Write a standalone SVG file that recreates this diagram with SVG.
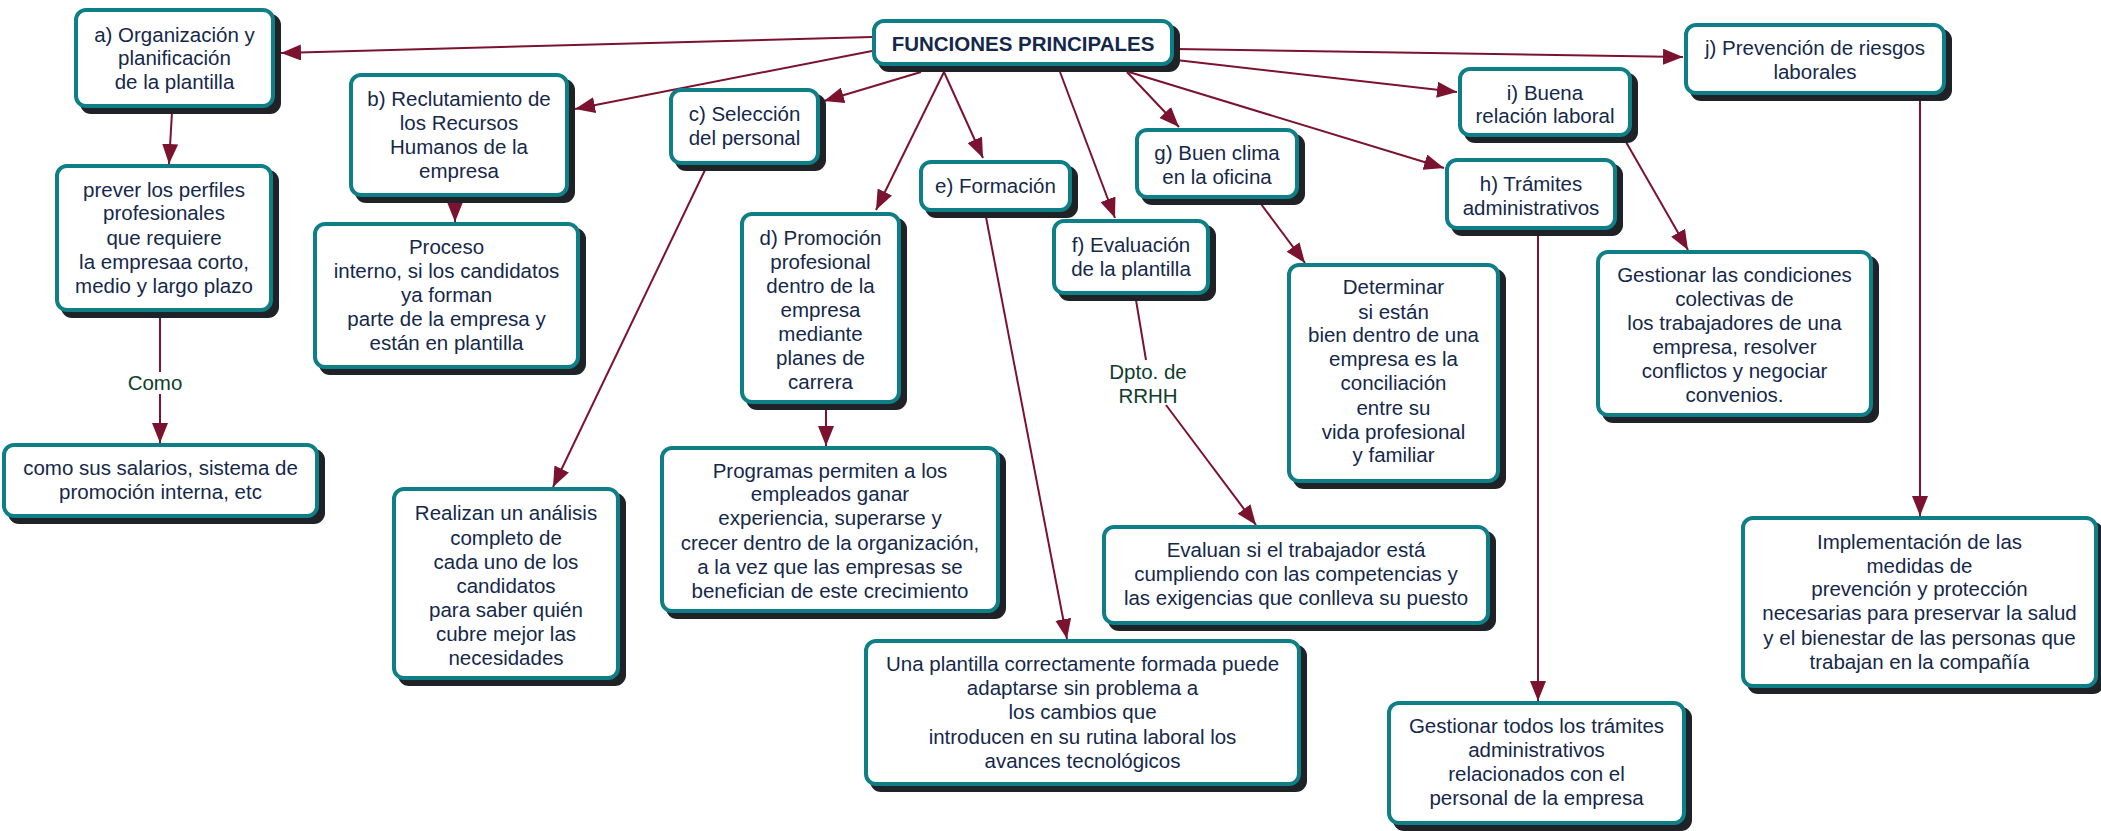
<svg xmlns="http://www.w3.org/2000/svg" width="2101" height="831" viewBox="0 0 2101 831">
<defs>
<style>
.sh{fill:#1f2227}
.bx{fill:#ffffff;stroke:#0e7f87;stroke-width:4}
.t{font-family:"Liberation Sans",Arial,sans-serif;font-size:20.5px;fill:#15284a;text-anchor:middle}
.tb{font-weight:bold}
.ln{fill:none;stroke:#7b1230;stroke-width:2}
.lb{font-family:"Liberation Sans",Arial,sans-serif;font-size:20.5px;fill:#0f3d2d;text-anchor:middle}
</style>
<marker id="ah" markerUnits="userSpaceOnUse" markerWidth="22" markerHeight="16" refX="20" refY="8" orient="auto">
<path d="M0,0 L20,8 L0,16 Z" fill="#7b1230"/>
</marker>
</defs>
<rect width="2101" height="831" fill="#ffffff"/>
<g id="connectors">
<path class="ln" marker-end="url(#ah)" d="M872,37 L281,53"/>
<path class="ln" marker-end="url(#ah)" d="M872,51 L575,109"/>
<path class="ln" marker-end="url(#ah)" d="M921,72 L824,101"/>
<path class="ln" marker-end="url(#ah)" d="M944,72 L876,210"/>
<path class="ln" marker-end="url(#ah)" d="M944,72 L983,158"/>
<path class="ln" marker-end="url(#ah)" d="M1060,72 L1115,218"/>
<path class="ln" marker-end="url(#ah)" d="M1127,72 L1179,127"/>
<path class="ln" marker-end="url(#ah)" d="M1129,72 L1444,168"/>
<path class="ln" marker-end="url(#ah)" d="M1176,60 L1457,92"/>
<path class="ln" marker-end="url(#ah)" d="M1176,49 L1683,57"/>
<path class="ln" marker-end="url(#ah)" d="M172,112 L169,164"/>
<path class="ln" marker-end="url(#ah)" d="M455,200 L455,222"/>
<path class="ln" d="M160,316 L160,372"/>
<path class="ln" marker-end="url(#ah)" d="M160,394 L160,443"/>
<path class="ln" marker-end="url(#ah)" d="M705,170 L553,487"/>
<path class="ln" marker-end="url(#ah)" d="M826,408 L826,446"/>
<path class="ln" marker-end="url(#ah)" d="M986,217 L1067,639"/>
<path class="ln" d="M1136,300 L1146,360"/>
<path class="ln" marker-end="url(#ah)" d="M1166,405 L1256,525"/>
<path class="ln" marker-end="url(#ah)" d="M1261,204 L1305,263"/>
<path class="ln" marker-end="url(#ah)" d="M1626,142 L1688,250"/>
<path class="ln" marker-end="url(#ah)" d="M1538,234 L1538,701"/>
<path class="ln" marker-end="url(#ah)" d="M1920,100 L1920,516"/>
<text class="lb" x="155" y="390">Como</text>
<text class="lb"><tspan x="1148" y="379">Dpto. de</tspan><tspan x="1148" y="403">RRHH</tspan></text>
</g>
<g id="n-center">
<rect class="sh" x="878" y="25" width="302" height="47" rx="11"/>
<rect class="bx" x="874" y="21" width="298" height="43" rx="10"/>
<text class="t tb" x="1023" y="51">FUNCIONES PRINCIPALES</text>
</g>
<g id="n-a">
<rect class="sh" x="80" y="14" width="201" height="100" rx="11"/>
<rect class="bx" x="76" y="10" width="197" height="96" rx="10"/>
<text class="t"><tspan x="174.5" y="42">a) Organización y</tspan><tspan x="174.5" y="65">planificación</tspan><tspan x="174.5" y="89">de la plantilla</tspan></text>
</g>
<g id="n-prever">
<rect class="sh" x="61" y="170" width="218" height="148" rx="11"/>
<rect class="bx" x="57" y="166" width="214" height="144" rx="10"/>
<text class="t"><tspan x="164" y="197">prever los perfiles</tspan><tspan x="164" y="220">profesionales</tspan><tspan x="164" y="245">que requiere</tspan><tspan x="164" y="269">la empresaa corto,</tspan><tspan x="164" y="293">medio y largo plazo</tspan></text>
</g>
<g id="n-b">
<rect class="sh" x="355" y="79" width="220" height="124" rx="11"/>
<rect class="bx" x="351" y="75" width="216" height="120" rx="10"/>
<text class="t"><tspan x="459" y="106">b) Reclutamiento de</tspan><tspan x="459" y="130">los Recursos</tspan><tspan x="459" y="154">Humanos de la</tspan><tspan x="459" y="178">empresa</tspan></text>
</g>
<g id="n-proceso">
<rect class="sh" x="319" y="228" width="267" height="147" rx="11"/>
<rect class="bx" x="315" y="224" width="263" height="143" rx="10"/>
<text class="t"><tspan x="446.5" y="254">Proceso</tspan><tspan x="446.5" y="278">interno, si los candidatos</tspan><tspan x="446.5" y="302">ya forman</tspan><tspan x="446.5" y="326">parte de la empresa y</tspan><tspan x="446.5" y="350">están en plantilla</tspan></text>
</g>
<g id="n-como">
<rect class="sh" x="8" y="449" width="317" height="75" rx="11"/>
<rect class="bx" x="4" y="445" width="313" height="71" rx="10"/>
<text class="t"><tspan x="160.5" y="475">como sus salarios, sistema de</tspan><tspan x="160.5" y="499">promoción interna, etc</tspan></text>
</g>
<g id="n-c">
<rect class="sh" x="675" y="94" width="151" height="77" rx="11"/>
<rect class="bx" x="671" y="90" width="147" height="73" rx="10"/>
<text class="t"><tspan x="744.5" y="121">c) Selección</tspan><tspan x="744.5" y="145">del personal</tspan></text>
</g>
<g id="n-realizan">
<rect class="sh" x="398" y="493" width="228" height="193" rx="11"/>
<rect class="bx" x="394" y="489" width="224" height="189" rx="10"/>
<text class="t"><tspan x="506" y="520">Realizan un análisis</tspan><tspan x="506" y="545">completo de</tspan><tspan x="506" y="569">cada uno de los</tspan><tspan x="506" y="593">candidatos</tspan><tspan x="506" y="617">para saber quién</tspan><tspan x="506" y="641">cubre mejor las</tspan><tspan x="506" y="665">necesidades</tspan></text>
</g>
<g id="n-d">
<rect class="sh" x="746" y="218" width="161" height="192" rx="11"/>
<rect class="bx" x="742" y="214" width="157" height="188" rx="10"/>
<text class="t"><tspan x="820.5" y="245">d) Promoción</tspan><tspan x="820.5" y="269">profesional</tspan><tspan x="820.5" y="293">dentro de la</tspan><tspan x="820.5" y="317">empresa</tspan><tspan x="820.5" y="341">mediante</tspan><tspan x="820.5" y="365">planes de</tspan><tspan x="820.5" y="389">carrera</tspan></text>
</g>
<g id="n-programas">
<rect class="sh" x="666" y="452" width="340" height="167" rx="11"/>
<rect class="bx" x="662" y="448" width="336" height="163" rx="10"/>
<text class="t"><tspan x="830" y="478">Programas permiten a los</tspan><tspan x="830" y="501">empleados ganar</tspan><tspan x="830" y="525">experiencia, superarse y</tspan><tspan x="830" y="550">crecer dentro de la organización,</tspan><tspan x="830" y="574">a la vez que las empresas se</tspan><tspan x="830" y="598">benefician de este crecimiento</tspan></text>
</g>
<g id="n-e">
<rect class="sh" x="925" y="166" width="153" height="52" rx="11"/>
<rect class="bx" x="921" y="162" width="149" height="48" rx="10"/>
<text class="t" x="995.5" y="193">e) Formación</text>
</g>
<g id="n-una">
<rect class="sh" x="870" y="645" width="437" height="147" rx="11"/>
<rect class="bx" x="866" y="641" width="433" height="143" rx="10"/>
<text class="t"><tspan x="1082.5" y="671">Una plantilla correctamente formada puede</tspan><tspan x="1082.5" y="695">adaptarse sin problema a</tspan><tspan x="1082.5" y="719">los cambios que</tspan><tspan x="1082.5" y="744">introducen en su rutina laboral los</tspan><tspan x="1082.5" y="768">avances tecnológicos</tspan></text>
</g>
<g id="n-f">
<rect class="sh" x="1058" y="225" width="158" height="76" rx="11"/>
<rect class="bx" x="1054" y="221" width="154" height="72" rx="10"/>
<text class="t"><tspan x="1131" y="252">f) Evaluación</tspan><tspan x="1131" y="276">de la plantilla</tspan></text>
</g>
<g id="n-evaluan">
<rect class="sh" x="1108" y="531" width="388" height="100" rx="11"/>
<rect class="bx" x="1104" y="527" width="384" height="96" rx="10"/>
<text class="t"><tspan x="1296" y="557">Evaluan si el trabajador está</tspan><tspan x="1296" y="581">cumpliendo con las competencias y</tspan><tspan x="1296" y="605">las exigencias que conlleva su puesto</tspan></text>
</g>
<g id="n-g">
<rect class="sh" x="1141" y="134" width="164" height="71" rx="11"/>
<rect class="bx" x="1137" y="130" width="160" height="67" rx="10"/>
<text class="t"><tspan x="1217" y="160">g) Buen clima</tspan><tspan x="1217" y="184">en la oficina</tspan></text>
</g>
<g id="n-determinar">
<rect class="sh" x="1293" y="269" width="213" height="220" rx="11"/>
<rect class="bx" x="1289" y="265" width="209" height="216" rx="10"/>
<text class="t"><tspan x="1393.5" y="294">Determinar</tspan><tspan x="1393.5" y="319">si están</tspan><tspan x="1393.5" y="342">bien dentro de una</tspan><tspan x="1393.5" y="366">empresa es la</tspan><tspan x="1393.5" y="390">conciliación</tspan><tspan x="1393.5" y="415">entre su</tspan><tspan x="1393.5" y="439">vida profesional</tspan><tspan x="1393.5" y="462">y familiar</tspan></text>
</g>
<g id="n-i">
<rect class="sh" x="1464" y="73" width="174" height="70" rx="11"/>
<rect class="bx" x="1460" y="69" width="170" height="66" rx="10"/>
<text class="t"><tspan x="1545" y="100">i) Buena</tspan><tspan x="1545" y="123">relación laboral</tspan></text>
</g>
<g id="n-h">
<rect class="sh" x="1451" y="164" width="172" height="72" rx="11"/>
<rect class="bx" x="1447" y="160" width="168" height="68" rx="10"/>
<text class="t"><tspan x="1531" y="191">h) Trámites</tspan><tspan x="1531" y="215">administrativos</tspan></text>
</g>
<g id="n-gestcond">
<rect class="sh" x="1602" y="256" width="277" height="167" rx="11"/>
<rect class="bx" x="1598" y="252" width="273" height="163" rx="10"/>
<text class="t"><tspan x="1734.5" y="282">Gestionar las condiciones</tspan><tspan x="1734.5" y="306">colectivas de</tspan><tspan x="1734.5" y="330">los trabajadores de una</tspan><tspan x="1734.5" y="354">empresa, resolver</tspan><tspan x="1734.5" y="378">conflictos y negociar</tspan><tspan x="1734.5" y="402">convenios.</tspan></text>
</g>
<g id="n-gesttodos">
<rect class="sh" x="1393" y="707" width="299" height="124" rx="11"/>
<rect class="bx" x="1389" y="703" width="295" height="120" rx="10"/>
<text class="t"><tspan x="1536.5" y="733">Gestionar todos los trámites</tspan><tspan x="1536.5" y="757">administrativos</tspan><tspan x="1536.5" y="781">relacionados con el</tspan><tspan x="1536.5" y="805">personal de la empresa</tspan></text>
</g>
<g id="n-j">
<rect class="sh" x="1690" y="29" width="262" height="72" rx="11"/>
<rect class="bx" x="1686" y="25" width="258" height="68" rx="10"/>
<text class="t"><tspan x="1815" y="55">j) Prevención de riesgos</tspan><tspan x="1815" y="79">laborales</tspan></text>
</g>
<g id="n-impl">
<rect class="sh" x="1747" y="522" width="357" height="172" rx="11"/>
<rect class="bx" x="1743" y="518" width="353" height="168" rx="10"/>
<text class="t"><tspan x="1919.5" y="549">Implementación de las</tspan><tspan x="1919.5" y="573">medidas de</tspan><tspan x="1919.5" y="596">prevención y protección</tspan><tspan x="1919.5" y="620">necesarias para preservar la salud</tspan><tspan x="1919.5" y="645">y el bienestar de las personas que</tspan><tspan x="1919.5" y="669">trabajan en la compañía</tspan></text>
</g>
</svg>
